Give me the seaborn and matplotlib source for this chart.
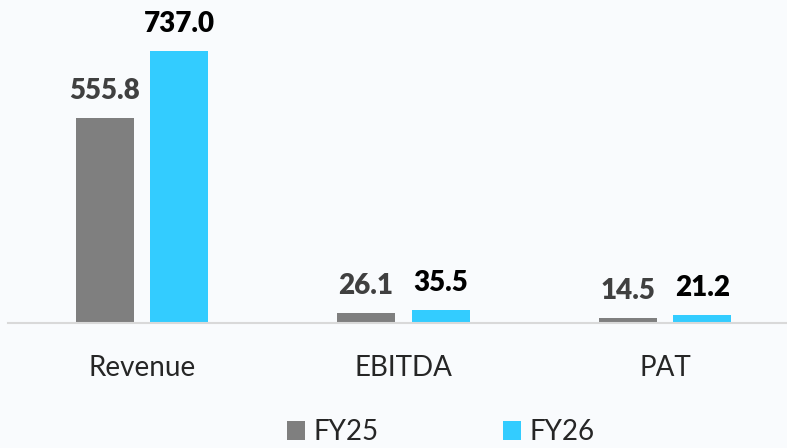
import matplotlib
matplotlib.use("Agg")
import matplotlib.pyplot as plt
import seaborn as sns
import pandas as pd

categories = ["Revenue", "EBITDA", "PAT"]
fy25 = [555.8, 26.1, 14.5]
fy26 = [737.0, 35.5, 21.2]
years = ["FY25", "FY26"]
colors = {"FY25": "#7f7f7f", "FY26": "#33ccff"}
label_colors = {"FY25": "#404040", "FY26": "#000000"}

df = pd.DataFrame({
    "metric": categories * 2,
    "year": ["FY25"] * 3 + ["FY26"] * 3,
    "value": fy25 + fy26,
})

sns.set_style("white")
plt.rcParams["font.family"] = ["Lato", "DejaVu Sans"]

fig = plt.figure(figsize=(7.87, 4.48), dpi=100)
fig.patch.set_facecolor("#f9fbfd")
ax = fig.add_axes([0.01, 0.279, 0.99, 0.721])
ax.set_facecolor("none")

sns.barplot(data=df, x="metric", y="value", hue="year", palette=colors,
            saturation=1, width=0.572, gap=0.224, linewidth=0, ax=ax, legend=True)

for cont, yr in zip(ax.containers, years):
    ax.bar_label(cont, fmt="%.1f", padding=10, fontsize=20, fontweight="heavy",
                 color=label_colors[yr])

ax.set_xlim(-0.513, 2.467)
ax.set_ylim(0, 875)
ax.set_xlabel("")
ax.set_ylabel("")
ax.set_yticks([])
ax.tick_params(axis="x", length=0, pad=23, labelsize=20)
for s in ["top", "right", "left"]:
    ax.spines[s].set_visible(False)
ax.spines["bottom"].set_color("#d9d9d9")
ax.spines["bottom"].set_linewidth(1.5)

handles, labels = ax.get_legend_handles_labels()
ax.get_legend().remove()
leg = fig.legend(handles, labels, loc="lower center", bbox_to_anchor=(0.56, -0.05),
                 ncol=2, frameon=False, fontsize=20,
                 handlelength=0.65, handleheight=0.65, handletextpad=0.29,
                 columnspacing=4.5)

fig.savefig("out.png", dpi=100, facecolor=fig.get_facecolor())
